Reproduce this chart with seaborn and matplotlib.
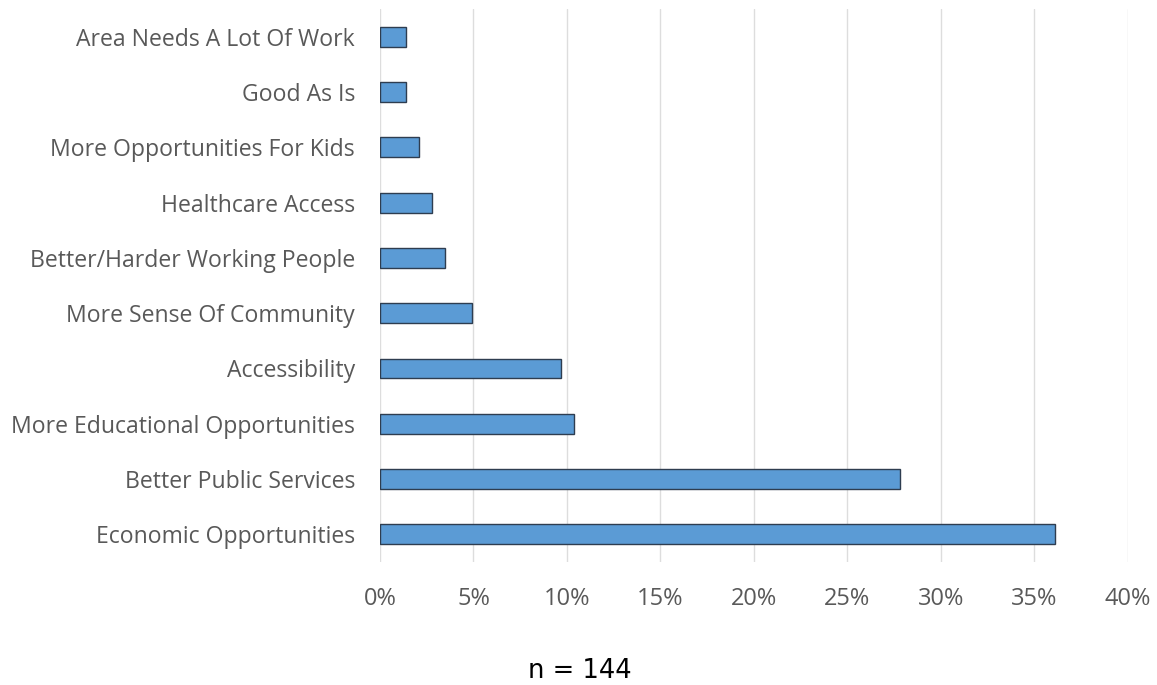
import matplotlib
matplotlib.use("Agg")
import matplotlib.pyplot as plt
import seaborn as sns
import pandas as pd
from matplotlib.ticker import PercentFormatter, MultipleLocator

# Survey responses (share of respondents, %)
categories = [
    "Area Needs A Lot Of Work",
    "Good As Is",
    "More Opportunities For Kids",
    "Healthcare Access",
    "Better/Harder Working People",
    "More Sense Of Community",
    "Accessibility",
    "More Educational Opportunities",
    "Better Public Services",
    "Economic Opportunities",
]
shares = [1.4, 1.4, 2.1, 2.8, 3.5, 4.9, 9.7, 10.4, 27.8, 36.1]
sample_note = "n = 144"

df = pd.DataFrame({"category": categories, "share": shares})

sns.set_theme(style="white")
plt.rcParams["font.family"] = ["Open Sans", "DejaVu Sans"]

fig = plt.figure(figsize=(11.57, 6.85), dpi=100)
ax = fig.add_axes([0.3284, 0.1796, 0.6465, 0.807])

sns.barplot(data=df, y="category", x="share", orient="h", ax=ax,
            color="#5B9BD5", edgecolor="#2E3D50", linewidth=1.0,
            width=0.36, saturation=1)

ax.set_xlim(0, 40)
ax.set_ylim(9.5, -0.5)
ax.xaxis.set_major_locator(MultipleLocator(5))
ax.xaxis.set_major_formatter(PercentFormatter(decimals=0))
ax.grid(axis="x", color="#DDDDDD", linewidth=1.0)
ax.set_axisbelow(True)
for s in ax.spines.values():
    s.set_visible(False)
ax.set_xlabel("")
ax.set_ylabel("")
ax.tick_params(axis="y", length=0, pad=18, labelsize=16.6, labelcolor="#595959")
ax.tick_params(axis="x", length=0, pad=18, labelsize=17, labelcolor="#595959")

fig.text(0.501, 0.0102, sample_note, ha="center", va="baseline",
         fontsize=18.5, color="black", family=["DejaVu Sans"])

fig.savefig("out.png", dpi=100)
